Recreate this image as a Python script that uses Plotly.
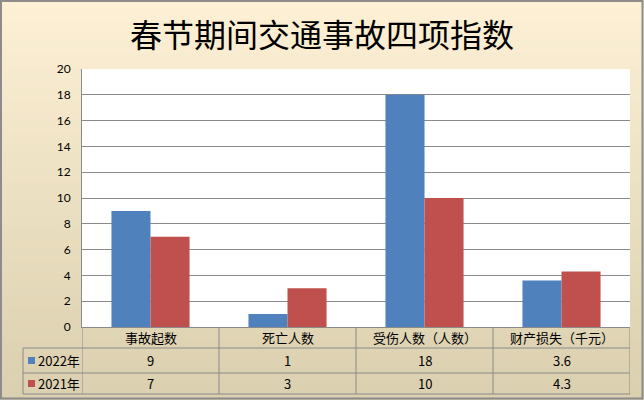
import plotly.graph_objects as go

categories = ["事故起数", "死亡人数", "受伤人数（人数）", "财产损失（千元）"]
series_names = ["2022年", "2021年"]
values_2022 = [9, 1, 18, 3.6]
values_2021 = [7, 3, 10, 4.3]
value_labels_2022 = ["9", "1", "18", "3.6"]
value_labels_2021 = ["7", "3", "10", "4.3"]
colors = ["#4F81BD", "#C0504D"]
title_text = "春节期间交通事故四项指数"

W, H = 644, 400
L, R, T, B = 82, 630, 69, 327  # plot area in pixels

def px(x):
    return (x - L) / (R - L)

def py(y):
    return (B - y) / (B - T)

fig = go.Figure()
fig.add_trace(go.Bar(x=list(range(4)), y=values_2022, name=series_names[0],
                     marker=dict(color=colors[0], line=dict(width=0))))
fig.add_trace(go.Bar(x=list(range(4)), y=values_2021, name=series_names[1],
                     marker=dict(color=colors[1], line=dict(width=0))))

shapes = []
# gradient background
top = (253, 240, 213)
bot = (218, 207, 174)
n = 60
for i in range(n):
    t = i / (n - 1)
    c = tuple(round(top[k] + (bot[k] - top[k]) * t) for k in range(3))
    y0 = H * i / n
    y1 = H * (i + 1) / n + 0.5
    shapes.append(dict(type="rect", xref="paper", yref="paper", layer="below",
                       x0=px(0), x1=px(W), y0=py(y1), y1=py(y0),
                       fillcolor="rgb(%d,%d,%d)" % c, line=dict(width=0)))
# white plot area
shapes.append(dict(type="rect", xref="paper", yref="paper", layer="below",
                   x0=0, x1=1, y0=0, y1=1, fillcolor="white", line=dict(width=0)))
# outer border
shapes.append(dict(type="rect", xref="paper", yref="paper", layer="above",
                   x0=px(1), x1=px(W - 1.5), y0=py(H - 1.5), y1=py(1),
                   fillcolor="rgba(0,0,0,0)", line=dict(color="#8C8C8C", width=2)))

grid_col = "#8A8A8A"
row_top, row1, row2, row_bot = 327, 348, 373, 394
tbl_left = 23
# table vertical lines at category boundaries
for b in [-0.5, 0.5, 1.5, 2.5, 3.5]:
    shapes.append(dict(type="line", xref="x", yref="paper", layer="above",
                       x0=b, x1=b, y0=py(row_top), y1=py(row_bot),
                       line=dict(color=grid_col, width=1)))
# left column vertical line
shapes.append(dict(type="line", xref="paper", yref="paper", layer="above",
                   x0=px(tbl_left), x1=px(tbl_left), y0=py(row1), y1=py(row_bot),
                   line=dict(color=grid_col, width=1)))
for yy in [row1, row2, row_bot]:
    shapes.append(dict(type="line", xref="paper", yref="paper", layer="above",
                       x0=px(tbl_left), x1=1, y0=py(yy), y1=py(yy),
                       line=dict(color=grid_col, width=1)))
# legend swatches
for yy, col in [((row1 + row2) / 2, colors[0]), ((row2 + row_bot) / 2, colors[1])]:
    shapes.append(dict(type="rect", xref="paper", yref="paper", layer="above",
                       x0=px(28), x1=px(35), y0=py(yy + 3.5), y1=py(yy - 3.5),
                       fillcolor=col, line=dict(width=0)))

annotations = []
cjk = "Noto Sans CJK SC"
txt = dict(family=cjk, size=13, color="black")
for i, cat in enumerate(categories):
    annotations.append(dict(x=i, y=py((row_top + row1) / 2), xref="x", yref="paper",
                            xanchor="center", yanchor="middle",
                            text=cat, showarrow=False, font=txt))
    annotations.append(dict(x=i, y=py((row1 + row2) / 2), xref="x", yref="paper",
                            xanchor="center", yanchor="middle",
                            text=value_labels_2022[i], showarrow=False, font=txt))
    annotations.append(dict(x=i, y=py((row2 + row_bot) / 2), xref="x", yref="paper",
                            xanchor="center", yanchor="middle",
                            text=value_labels_2021[i], showarrow=False, font=txt))
for name, yy in [(series_names[0], (row1 + row2) / 2), (series_names[1], (row2 + row_bot) / 2)]:
    annotations.append(dict(x=px(36), y=py(yy), xref="paper", yref="paper",
                            xanchor="left", yanchor="middle", text=name, showarrow=False,
                            font=txt))
annotations.append(dict(x=px(W / 2), y=py(33), xref="paper", yref="paper",
                        xanchor="center", yanchor="middle",
                        text=title_text, showarrow=False,
                        font=dict(family=cjk, size=32, color="black")))

fig.update_layout(
    width=W, height=H,
    margin=dict(l=L, r=W - R, t=T, b=H - B, pad=0),
    paper_bgcolor="rgb(240,230,200)",
    plot_bgcolor="white",
    showlegend=False,
    barmode="group",
    bargap=0.43,
    bargroupgap=0,
    shapes=shapes,
    annotations=annotations,
    xaxis=dict(range=[-0.5, 3.5], showticklabels=False, showgrid=False,
               zeroline=False, showline=True, linecolor=grid_col, linewidth=1,
               ticks="", fixedrange=True),
    yaxis=dict(range=[0, 20], dtick=2, showgrid=True, gridcolor=grid_col, gridwidth=1,
               zeroline=False, showline=True, linecolor=grid_col, linewidth=1,
               ticks="", ticklabelstandoff=8, fixedrange=True,
               tickfont=dict(family="Lato", size=12, color="black")),
)

fig.write_html("out.html", config={"displayModeBar": False, "staticPlot": True},
               post_script="document.body.style.margin='0';document.body.style.padding='0';document.body.style.overflow='hidden';")
